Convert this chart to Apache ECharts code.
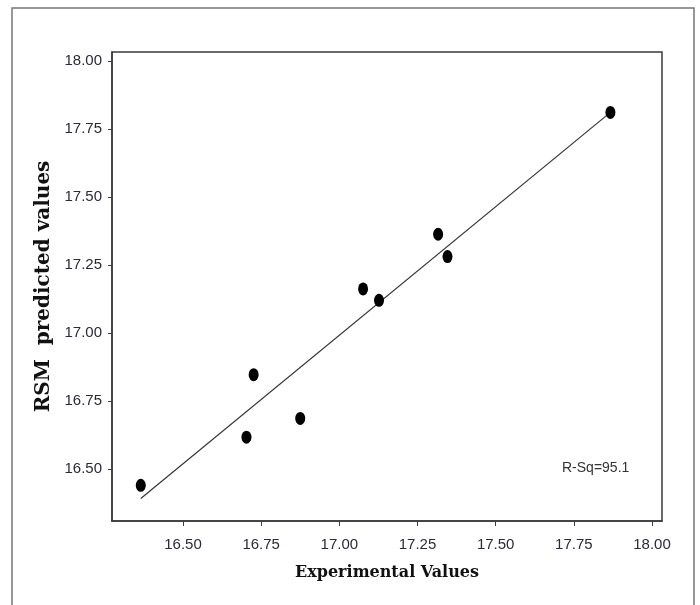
<!DOCTYPE html>
<html>
<head>
<meta charset="utf-8">
<script src="https://cdn.jsdelivr.net/npm/echarts@6/dist/echarts.min.js"></script>
<style>
html,body{margin:0;padding:0;background:#fff;}
#chart{width:700px;height:605px;}
</style>
</head>
<body>
<div id="chart"></div>
<script>
// Experimental values (x) and RSM predicted values (y)
var experimental = [16.365, 16.703, 16.726, 16.875, 17.076, 17.127, 17.316, 17.346, 17.867];
var predicted    = [16.440, 16.617, 16.847, 16.686, 17.162, 17.120, 17.363, 17.281, 17.811];
// Fitted line end points
var fitX = [16.365, 17.867];
var fitY = [16.392, 17.811];
// Tick values
var xTicks = [16.50, 16.75, 17.00, 17.25, 17.50, 17.75, 18.00];
var yTicks = [16.50, 16.75, 17.00, 17.25, 17.50, 17.75, 18.00];
var rSqText = 'R-Sq=95.1';

var pts = experimental.map(function (x, i) { return [x, predicted[i]]; });
var fit = fitX.map(function (x, i) { return [x, fitY[i]]; });

var tickFont = '"Liberation Sans", Arial, sans-serif';
var titleFont = '"DejaVu Serif", "Liberation Serif", serif';

var chart = echarts.init(document.getElementById('chart'), null, {renderer: 'canvas'});
chart.setOption({
  animation: false,
  backgroundColor: '#fff',
  grid: {
    left: 112, right: 38, top: 52, bottom: 84,
    show: true, borderColor: '#3a3a3a', borderWidth: 1.5, backgroundColor: 'transparent'
  },
  graphic: [
    {
      type: 'rect', z: -1,
      shape: {x: 12, y: 8, width: 682, height: 640},
      style: {fill: 'none', stroke: '#777', lineWidth: 1.5}
    },
    {
      type: 'text',
      left: 562, top: 461,
      style: {text: rSqText, font: '14px ' + tickFont, fill: '#333'}
    }
  ],
  xAxis: {
    type: 'value',
    min: 16.273, max: 18.032,
    name: 'Experimental Values',
    nameLocation: 'middle',
    nameGap: 44,
    nameTextStyle: {fontFamily: titleFont, fontWeight: 'bold', fontSize: 16, color: '#111'},
    splitLine: {show: false},
    axisLine: {show: true, onZero: false, lineStyle: {color: '#3a3a3a', width: 1.5}},
    axisTick: {show: true, customValues: xTicks, length: 5, lineStyle: {color: '#3a3a3a'}},
    axisLabel: {
      customValues: xTicks, margin: 16,
      fontFamily: tickFont, fontSize: 15, color: '#2a2a3a',
      formatter: function (v) { return v.toFixed(2); }
    }
  },
  yAxis: {
    type: 'value',
    min: 16.309, max: 18.033,
    name: 'RSM  predicted values',
    nameLocation: 'middle',
    nameRotate: 90,
    nameGap: 58,
    nameTextStyle: {fontFamily: titleFont, fontWeight: 'bold', fontSize: 20, color: '#111'},
    splitLine: {show: false},
    axisLine: {show: true, onZero: false, lineStyle: {color: '#3a3a3a', width: 1.5}},
    axisTick: {show: true, customValues: yTicks, length: 4, lineStyle: {color: '#3a3a3a'}},
    axisLabel: {
      customValues: yTicks, margin: 10,
      fontFamily: tickFont, fontSize: 15, color: '#2a2a3a',
      formatter: function (v) { return v.toFixed(2); }
    }
  },
  series: [
    {
      type: 'line',
      data: fit,
      symbol: 'none',
      lineStyle: {color: '#333', width: 1.2},
      silent: true,
      z: 2
    },
    {
      type: 'scatter',
      data: pts,
      symbol: 'circle',
      symbolSize: [10, 13],
      itemStyle: {color: '#000', opacity: 1},
      z: 3
    }
  ]
});
</script>
</body>
</html>
